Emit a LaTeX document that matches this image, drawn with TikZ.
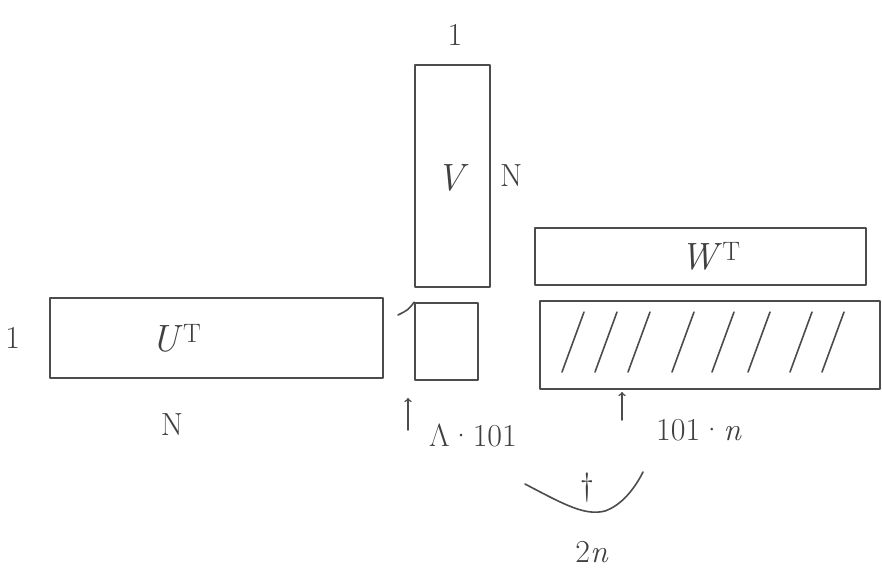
\documentclass[tikz,border=0pt]{standalone}
\usepackage{fontspec}
\usepackage{tikz}
\usetikzlibrary{positioning}

\tikzset{
  pencil/.style={draw=black!70,line width=1.6pt,line cap=round,line join=round},
  matbox/.style={pencil,rectangle,inner sep=0pt},
  dimlabel/.style={text=black!75,font=\fontsize{32}{36}\selectfont,inner sep=1pt},
  matlabel/.style={text=black!75,font=\fontsize{38}{42}\selectfont}
}

\begin{document}
\begin{tikzpicture}[x=1pt,y=-1pt]
  \useasboundingbox (0,0) rectangle (882,581);

  % matrices
  \node[matbox,minimum width=75pt,minimum height=222pt] (V) at (452.5,176) {};
  \node[matbox,minimum width=333pt,minimum height=80pt] (Ut) at (216.5,338) {};
  \node[matbox,minimum width=63pt,minimum height=77pt] (Vpart) at (446.5,341.5) {};
  \node[matbox,minimum width=331pt,minimum height=57pt] (Wt) at (700.5,256.5) {};
  \node[matbox,minimum width=340pt,minimum height=88pt] (Wpart) at (710,345) {};
  \draw[pencil] (Vpart.north west) .. controls (408,310) .. (398,315);

  \node[matlabel] at (V) [yshift=-2pt] {\textit{V}};
  \node[matlabel] at (Ut.center) [xshift=-40pt] {\textit{U}\textsuperscript{T}};
  \node[matlabel] at (Wt.center) [xshift=10pt] {\textit{W}\textsuperscript{T}};

  % sizes
  \node[dimlabel] (Vtop) at (455,35) {1};
  \node[dimlabel,right=8pt of V] (Vside) {N};
  \node[dimlabel,left=28pt of Ut] (Utside) {1};
  \node[dimlabel] (Utbot) at (172,425) {N};

  % hatched rows
  \foreach \x in {562,595,628,672,712,748,790,822}
    \draw[pencil] (\x,372) -- (\x+22,312);

  % pointers
  \coordinate (p1) at (408,430);
  \coordinate (q1) at (408,398);
  \draw[pencil,->] (p1) -- (q1);
  \node[dimlabel,anchor=west] (n1) at (428,435) {Λ·101};
  \coordinate (p2) at (622,420);
  \coordinate (q2) at (622,392);
  \draw[pencil,->] (p2) -- (q2);
  \node[dimlabel,anchor=west] (n2) at (655,430) {101·\textit{n}};

  % span of both parts
  \coordinate (b1) at (525,484);
  \coordinate (b2) at (643,472);
  \draw[pencil] (b1) .. controls (565,505) and (585,516) .. (605,511)
    .. controls (622,505) and (635,488) .. (b2);
  \node[dimlabel] (mark) at (587,488) {†};
  \node[dimlabel] (twon) at (592,552) {2\textit{n}};
\end{tikzpicture}
\end{document}
